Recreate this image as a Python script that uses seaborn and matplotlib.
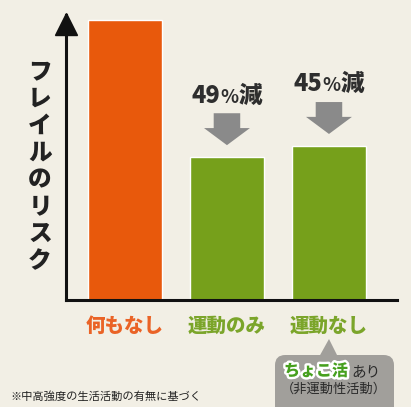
import matplotlib
matplotlib.use("Agg")
import matplotlib.pyplot as plt
import matplotlib.patches as mpatches
import matplotlib.patheffects as pe
import seaborn as sns
import pandas as pd

# ---- data ----
categories = ["何もなし", "運動のみ", "運動なし"]
risk = [1.00, 0.51, 0.55]
reduction_numbers = ["", "49", "45"]
reduction_unit = "%"
reduction_word = "減"
bar_colors = ["#e8590c", "#76a01b", "#76a01b"]
label_colors = ["#ea6326", "#7ba52a", "#7ba52a"]
y_label = "フレイルのリスク"
callout_main = "ちょこ活"
callout_suffix = "あり"
callout_sub = "（非運動性活動）"
footnote = "※中高強度の生活活動の有無に基づく"

sns.set_theme(style="white")
plt.rcParams["font.family"] = ["Noto Sans CJK JP", "DejaVu Sans"]

BG = "#f2efe5"
W, H = 411, 407
fig = plt.figure(figsize=(W / 100, H / 100), dpi=100, facecolor=BG)


def fx(px):
    return px / W


def fy(py):
    return 1 - py / H


ax = fig.add_axes([fx(66), fy(300), fx(397) - fx(66), (300 - 15) / H])
ax.set_facecolor(BG)

df = pd.DataFrame({"cat": categories, "risk": risk})
sns.barplot(data=df, x="cat", y="risk", hue="cat", palette=bar_colors,
            width=0.725, legend=False, ax=ax, saturation=1)

ax.set_xlim(-0.578, 2.667)
ax.set_ylim(0, 285 / 280)
ax.set_xlabel("")
ax.set_ylabel("")
ax.set_yticks([])
for s in ["top", "right"]:
    ax.spines[s].set_visible(False)
for s in ["left", "bottom"]:
    ax.spines[s].set_color("#111111")
    ax.spines[s].set_linewidth(2.2)
# arrow head on y axis
ax.plot([0], [1 - 9 / 285], marker="^", markersize=16, color="#111111",
        transform=ax.transAxes, clip_on=False)

ax.tick_params(axis="x", length=0, pad=12)
ax.set_xticks(range(len(categories)))
ax.set_xticklabels(categories, fontsize=14, fontweight="heavy")
for lbl, c in zip(ax.get_xticklabels(), label_colors):
    lbl.set_color(c)

# reduction annotations with gray arrows
pieces = []
for i, (v, num) in enumerate(zip(risk, reduction_numbers)):
    if not num:
        continue
    tip = v + 0.043
    length = 0.114
    ax.add_patch(mpatches.FancyArrow(i, tip + length, 0, -length, width=0.26,
                                     head_width=0.45, head_length=0.061,
                                     length_includes_head=True,
                                     color="#8a8a8a", lw=0))
    ty = v + 0.225
    parts = [
        ax.text(i, ty, num, ha="left", va="baseline", fontsize=17,
                fontweight="heavy", color="#2e2e2e"),
        ax.text(i, ty, reduction_unit, ha="left", va="baseline", fontsize=13.5,
                fontweight="bold", color="#2e2e2e"),
        ax.text(i, ty, reduction_word, ha="left", va="baseline", fontsize=17,
                fontweight="heavy", color="#2e2e2e"),
    ]
    pieces.append((i, ty, parts))

fig.canvas.draw()
r = fig.canvas.get_renderer()
for i, ty, parts in pieces:
    widths = [p.get_window_extent(r).width for p in parts]
    total = sum(widths)
    cx, cy = ax.transData.transform((i, ty))
    x = cx - total / 2
    for p, w in zip(parts, widths):
        dx, _ = ax.transData.inverted().transform((x, cy))
        p.set_x(dx)
        x += w
    for p in parts:
        p.set_y(ty - 0.03)

# y label, vertical stacked characters
fig.text(fx(40), fy(166), "\n".join(y_label), ha="center", va="center",
         fontsize=17, fontweight="heavy", color="#222222", linespacing=1.13)

# callout box
box_color = "#a19f9b"
box = mpatches.FancyBboxPatch((fx(275), fy(420)), fx(394) - fx(275), (420 - 355) / H,
                              boxstyle="round,pad=0,rounding_size=0.025",
                              transform=fig.transFigure, facecolor=box_color,
                              edgecolor="none")
fig.patches.append(box)
tri = mpatches.Polygon([(fx(319), fy(357)), (fx(338), fy(357)), (fx(329), fy(339))],
                       closed=True, transform=fig.transFigure,
                       facecolor=box_color, edgecolor="none")
fig.patches.append(tri)

fig.text(fx(316), fy(371), callout_main, ha="center", va="center", fontsize=11.5,
         fontweight="heavy", color="#46a01e",
         path_effects=[pe.withStroke(linewidth=3.5, foreground="white")])
fig.text(fx(366), fy(372), callout_suffix, ha="center", va="center", fontsize=10.5,
         color="#2a2a2a")
fig.text(fx(334), fy(389), callout_sub, ha="center", va="center", fontsize=9.5,
         color="#2a2a2a")

fig.text(fx(10), fy(397), footnote, ha="left", va="center", fontsize=8.1,
         color="#222222")

fig.savefig("out.png", dpi=100, facecolor=BG)
